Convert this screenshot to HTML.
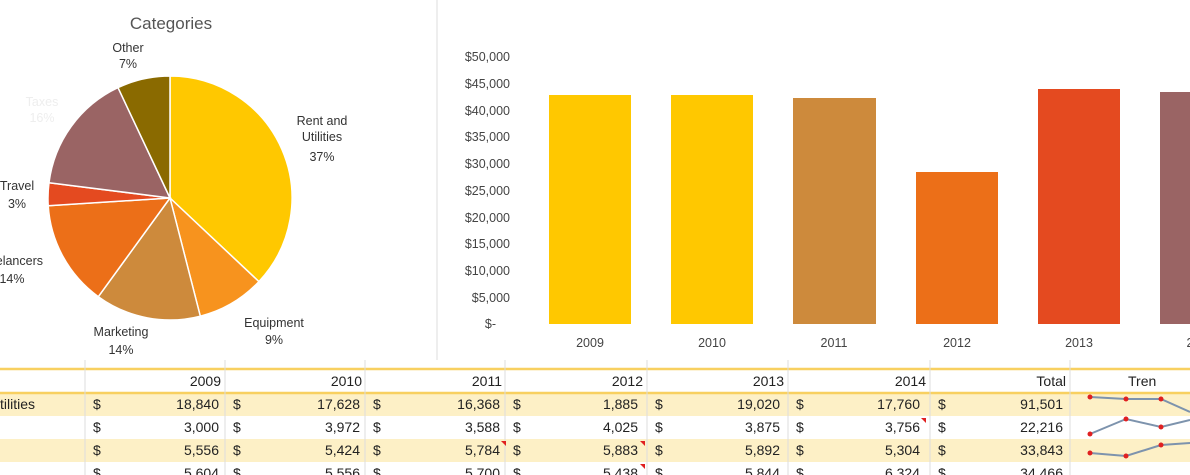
<!DOCTYPE html>
<html><head><meta charset="utf-8"><style>
body{margin:0;width:1190px;height:475px;background:#fff;overflow:hidden;font-family:"Liberation Sans",sans-serif;position:relative}
.t{position:absolute;font-size:13.5px;color:#222}
</style></head><body>
<svg width="1190" height="475" style="position:absolute;left:0;top:0" font-family="Liberation Sans, sans-serif">
<line x1="437" y1="0" x2="437" y2="360" stroke="#eee" stroke-width="2"/>
<text x="171" y="29" font-size="17" fill="#555" text-anchor="middle">Categories</text>
<g stroke="#fff" stroke-width="1.5">
<path d="M170,198 L170,76 A122,122 0 0,1 258.9,281.6Z" fill="#ffc800"/>
<path d="M170,198 L258.9,281.6 A122,122 0 0,1 200.3,316.2Z" fill="#f7931e"/>
<path d="M170,198 L200.3,316.2 A122,122 0 0,1 98.3,296.7Z" fill="#cd8a3c"/>
<path d="M170,198 L98.3,296.7 A122,122 0 0,1 48.2,205.7Z" fill="#ec6f18"/>
<path d="M170,198 L48.2,205.7 A122,122 0 0,1 49,182.7Z" fill="#e44a20"/>
<path d="M170,198 L49,182.7 A122,122 0 0,1 118,87.6Z" fill="#9a6464"/>
<path d="M170,198 L118,87.6 A122,122 0 0,1 170,76Z" fill="#8a6a00"/>
</g>
<g font-size="12.5" fill="#333" text-anchor="middle">
<text x="128" y="52">Other</text><text x="128" y="68">7%</text>
<text x="42" y="106" fill="#eee">Taxes</text><text x="42" y="122" fill="#eee">16%</text>
<text x="322" y="125">Rent and</text><text x="322" y="141">Utilities</text><text x="322" y="161">37%</text>
<text x="17" y="190">Travel</text><text x="17" y="208">3%</text>
<text x="10" y="265">Freelancers</text><text x="12" y="283">14%</text>
<text x="121" y="336">Marketing</text><text x="121" y="354">14%</text>
<text x="274" y="327">Equipment</text><text x="274" y="344">9%</text>
</g>
<g font-size="12.5" fill="#444" text-anchor="end">
<text x="510" y="61">$50,000</text><text x="510" y="88">$45,000</text><text x="510" y="115">$40,000</text>
<text x="510" y="141">$35,000</text><text x="510" y="168">$30,000</text><text x="510" y="195">$25,000</text>
<text x="510" y="222">$20,000</text><text x="510" y="248">$15,000</text><text x="510" y="275">$10,000</text>
<text x="510" y="302">$5,000</text><text x="496" y="328">$-</text>
</g>
<rect x="549" y="95" width="82" height="229" fill="#ffc800"/>
<rect x="671" y="95" width="82" height="229" fill="#ffc800"/>
<rect x="793" y="98" width="83" height="226" fill="#cd8a3c"/>
<rect x="916" y="172" width="82" height="152" fill="#ec6f18"/>
<rect x="1038" y="89" width="82" height="235" fill="#e44a20"/>
<rect x="1160" y="92" width="40" height="232" fill="#9a6464"/>
<g font-size="12.5" fill="#444" text-anchor="middle">
<text x="590" y="347">2009</text><text x="712" y="347">2010</text><text x="834" y="347">2011</text>
<text x="957" y="347">2012</text><text x="1079" y="347">2013</text><text x="1190" y="347">2</text>
</g>
<rect x="0" y="393" width="1190" height="23" fill="#fdf0c6"/>
<rect x="0" y="439" width="1190" height="23" fill="#fdf0c6"/>
<line x1="0" y1="369" x2="1190" y2="369" stroke="#f8d060" stroke-width="2.5"/>
<line x1="0" y1="393" x2="1190" y2="393" stroke="#f8d060" stroke-width="2.5"/>
<g stroke="#ddd" stroke-width="1">
<line x1="85" y1="360" x2="85" y2="475"/><line x1="225" y1="360" x2="225" y2="475"/>
<line x1="365" y1="360" x2="365" y2="475"/><line x1="505" y1="360" x2="505" y2="475"/>
<line x1="647" y1="360" x2="647" y2="475"/><line x1="788" y1="360" x2="788" y2="475"/>
<line x1="930" y1="360" x2="930" y2="475"/><line x1="1070" y1="360" x2="1070" y2="475"/>
</g>
<g font-size="14" fill="#222" text-anchor="end">
<text x="221" y="386">2009</text><text x="362" y="386">2010</text><text x="502" y="386">2011</text>
<text x="643" y="386">2012</text><text x="784" y="386">2013</text><text x="926" y="386">2014</text>
<text x="1066" y="386">Total</text>
</g>
<text x="1128" y="386" font-size="14" fill="#222">Tren</text>
<text x="0" y="409" font-size="14" fill="#222">tilities</text>
<g font-size="14" fill="#222">
<text x="93" y="409">$</text><text x="233" y="409">$</text><text x="373" y="409">$</text><text x="513" y="409">$</text><text x="655" y="409">$</text><text x="796" y="409">$</text><text x="938" y="409">$</text>
<text x="93" y="432">$</text><text x="233" y="432">$</text><text x="373" y="432">$</text><text x="513" y="432">$</text><text x="655" y="432">$</text><text x="796" y="432">$</text><text x="938" y="432">$</text>
<text x="93" y="455">$</text><text x="233" y="455">$</text><text x="373" y="455">$</text><text x="513" y="455">$</text><text x="655" y="455">$</text><text x="796" y="455">$</text><text x="938" y="455">$</text>
<text x="93" y="478">$</text><text x="233" y="478">$</text><text x="373" y="478">$</text><text x="513" y="478">$</text><text x="655" y="478">$</text><text x="796" y="478">$</text><text x="938" y="478">$</text>
</g>
<g font-size="14" fill="#222" text-anchor="end">
<text x="219" y="409">18,840</text><text x="360" y="409">17,628</text><text x="500" y="409">16,368</text><text x="638" y="409">1,885</text><text x="780" y="409">19,020</text><text x="920" y="409">17,760</text><text x="1063" y="409">91,501</text>
<text x="219" y="432">3,000</text><text x="360" y="432">3,972</text><text x="500" y="432">3,588</text><text x="638" y="432">4,025</text><text x="780" y="432">3,875</text><text x="920" y="432">3,756</text><text x="1063" y="432">22,216</text>
<text x="219" y="455">5,556</text><text x="360" y="455">5,424</text><text x="500" y="455">5,784</text><text x="638" y="455">5,883</text><text x="780" y="455">5,892</text><text x="920" y="455">5,304</text><text x="1063" y="455">33,843</text>
<text x="219" y="478">5,604</text><text x="360" y="478">5,556</text><text x="500" y="478">5,700</text><text x="638" y="478">5,438</text><text x="780" y="478">5,844</text><text x="920" y="478">6,324</text><text x="1063" y="478">34,466</text>
</g>
<g fill="#e02020">
<path d="M501,441 L506,441 L506,446Z"/><path d="M640,441 L645,441 L645,446Z"/><path d="M921,418 L926,418 L926,423Z"/><path d="M640,464 L645,464 L645,469Z"/>
</g>
<g stroke="#7d93ad" stroke-width="2" fill="none">
<polyline points="1090,397 1126,399 1161,399 1190,412"/>
<polyline points="1090,434 1126,419 1161,427 1190,420"/>
<polyline points="1090,453 1126,456 1161,445 1190,443"/>
</g>
<g fill="#e02020">
<circle cx="1090" cy="397" r="2.5"/><circle cx="1126" cy="399" r="2.5"/><circle cx="1161" cy="399" r="2.5"/>
<circle cx="1090" cy="434" r="2.5"/><circle cx="1126" cy="419" r="2.5"/><circle cx="1161" cy="427" r="2.5"/>
<circle cx="1090" cy="453" r="2.5"/><circle cx="1126" cy="456" r="2.5"/><circle cx="1161" cy="445" r="2.5"/>
</g>
</svg>
</body></html>
